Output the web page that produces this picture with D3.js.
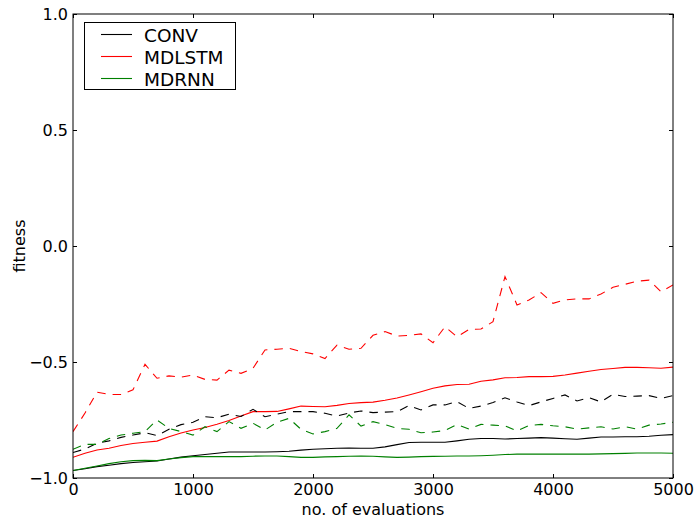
<!DOCTYPE html>
<html>
<head>
<meta charset="utf-8">
<script src="https://cdn.jsdelivr.net/npm/d3@7"></script>
<style>
  body { margin: 0; background: #fff; }
  text { font-family: "DejaVu Sans", sans-serif; }
</style>
</head>
<body>
<svg id="chart" width="697" height="522"></svg>
<script>
// evaluations sampled every 100 steps
var evals = d3.range(0, 5001, 100);

var convSolid = [-0.968,-0.960,-0.951,-0.945,-0.938,-0.933,-0.930,-0.927,-0.918,-0.910,-0.904,-0.899,-0.893,-0.888,-0.888,-0.888,-0.888,-0.887,-0.885,-0.880,-0.876,-0.874,-0.872,-0.871,-0.872,-0.872,-0.866,-0.856,-0.847,-0.846,-0.846,-0.846,-0.840,-0.833,-0.830,-0.830,-0.832,-0.830,-0.828,-0.826,-0.828,-0.831,-0.833,-0.828,-0.823,-0.823,-0.822,-0.822,-0.820,-0.816,-0.813];
var convDashed = [-0.890,-0.875,-0.850,-0.840,-0.825,-0.815,-0.805,-0.817,-0.790,-0.770,-0.760,-0.736,-0.740,-0.725,-0.735,-0.704,-0.736,-0.725,-0.714,-0.714,-0.714,-0.721,-0.733,-0.720,-0.711,-0.718,-0.716,-0.714,-0.688,-0.707,-0.685,-0.685,-0.671,-0.700,-0.690,-0.675,-0.654,-0.672,-0.688,-0.672,-0.657,-0.642,-0.668,-0.654,-0.672,-0.639,-0.649,-0.647,-0.645,-0.657,-0.645];
var lstmSolid = [-0.911,-0.893,-0.879,-0.872,-0.860,-0.851,-0.846,-0.841,-0.822,-0.806,-0.793,-0.782,-0.768,-0.752,-0.733,-0.714,-0.714,-0.713,-0.702,-0.690,-0.692,-0.693,-0.687,-0.679,-0.675,-0.673,-0.665,-0.655,-0.642,-0.628,-0.613,-0.603,-0.597,-0.596,-0.583,-0.577,-0.568,-0.567,-0.563,-0.563,-0.562,-0.556,-0.548,-0.540,-0.532,-0.528,-0.523,-0.523,-0.525,-0.527,-0.522];
var lstmDashed = [-0.800,-0.720,-0.630,-0.640,-0.640,-0.620,-0.510,-0.570,-0.560,-0.565,-0.556,-0.575,-0.578,-0.535,-0.549,-0.527,-0.448,-0.445,-0.441,-0.455,-0.465,-0.485,-0.427,-0.445,-0.441,-0.385,-0.369,-0.388,-0.385,-0.379,-0.417,-0.348,-0.391,-0.360,-0.358,-0.326,-0.132,-0.254,-0.233,-0.201,-0.247,-0.232,-0.228,-0.228,-0.207,-0.178,-0.165,-0.152,-0.147,-0.197,-0.168];
var rnnSolid = [-0.968,-0.958,-0.948,-0.938,-0.930,-0.925,-0.924,-0.925,-0.918,-0.912,-0.908,-0.908,-0.908,-0.908,-0.908,-0.906,-0.905,-0.905,-0.908,-0.911,-0.911,-0.909,-0.908,-0.906,-0.905,-0.906,-0.909,-0.911,-0.910,-0.908,-0.907,-0.906,-0.905,-0.905,-0.904,-0.902,-0.899,-0.897,-0.897,-0.897,-0.897,-0.897,-0.897,-0.897,-0.896,-0.895,-0.894,-0.892,-0.892,-0.892,-0.893];
var rnnDashed = [-0.876,-0.855,-0.855,-0.830,-0.815,-0.807,-0.800,-0.750,-0.786,-0.800,-0.815,-0.779,-0.800,-0.757,-0.786,-0.764,-0.793,-0.760,-0.743,-0.790,-0.810,-0.800,-0.786,-0.728,-0.776,-0.757,-0.770,-0.786,-0.790,-0.805,-0.802,-0.795,-0.769,-0.789,-0.769,-0.772,-0.775,-0.797,-0.774,-0.769,-0.775,-0.779,-0.789,-0.784,-0.779,-0.789,-0.779,-0.789,-0.772,-0.767,-0.760];

var legendNames = ["CONV", "MDLSTM", "MDRNN"];
var legendColors = ["#000000", "#ff0000", "#008000"];
var xTicks = [0, 1000, 2000, 3000, 4000, 5000];
var yTicks = [-1.0, -0.5, 0.0, 0.5, 1.0];

var svg = d3.select("#chart");
var pLeft = 73, pRight = 673, pTop = 14, pBottom = 478;

var x = d3.scaleLinear().domain([0, 5000]).range([pLeft, pRight]);
var y = d3.scaleLinear().domain([-1, 1]).range([pBottom, pTop]);

//series drawn in matplotlib order: solid then dashed per model
var series = [
  {vals: convSolid, color: legendColors[0], dash: null},
  {vals: lstmSolid, color: legendColors[1], dash: null},
  {vals: rnnSolid, color: legendColors[2], dash: null},
  {vals: convDashed, color: legendColors[0], dash: "8.5,7"},
  {vals: lstmDashed, color: legendColors[1], dash: "8.5,7"},
  {vals: rnnDashed, color: legendColors[2], dash: "8.5,7"}
];

var line = d3.line()
  .x(function(d, i){ return x(evals[i]); })
  .y(function(d){ return y(d); });

svg.append("defs").append("clipPath").attr("id", "clip")
  .append("rect").attr("x", pLeft).attr("y", pTop)
  .attr("width", pRight - pLeft).attr("height", pBottom - pTop);

var plot = svg.append("g").attr("clip-path", "url(#clip)");
series.forEach(function(s){
  plot.append("path")
    .attr("d", line(s.vals))
    .attr("fill", "none")
    .attr("stroke", s.color)
    .attr("stroke-width", 1.1)
    .attr("stroke-dasharray", s.dash);
});

// axes with inward ticks on all four sides
var fmtY = function(d){ return d3.format(".1f")(d).replace("-", "\u2212"); };
svg.append("g").attr("transform", "translate(0," + pBottom + ")")
  .call(d3.axisBottom(x).tickValues(xTicks).tickSize(-4).tickPadding(6).tickFormat(d3.format("d")));
svg.append("g").attr("transform", "translate(0," + pTop + ")")
  .call(d3.axisTop(x).tickValues(xTicks).tickSize(-4).tickFormat(""));
svg.append("g").attr("transform", "translate(" + pLeft + ",0)")
  .call(d3.axisLeft(y).tickValues(yTicks).tickSize(-4).tickPadding(5).tickFormat(fmtY));
svg.append("g").attr("transform", "translate(" + pRight + ",0)")
  .call(d3.axisRight(y).tickValues(yTicks).tickSize(-4).tickFormat(""));

svg.selectAll(".domain").remove();
svg.selectAll(".tick line").attr("stroke", "#000");
svg.selectAll(".tick text").attr("font-size", 16).attr("fill", "#000")
  .style("font-family", "DejaVu Sans");

svg.append("rect")
  .attr("x", pLeft).attr("y", pTop)
  .attr("width", pRight - pLeft).attr("height", pBottom - pTop)
  .attr("fill", "none").attr("stroke", "#000").attr("stroke-width", 1);

svg.append("text")
  .attr("x", (pLeft + pRight) / 2).attr("y", 515)
  .attr("text-anchor", "middle").attr("font-size", 16)
  .text("no. of evaluations");

svg.append("text")
  .attr("transform", "translate(25," + ((pTop + pBottom) / 2) + ") rotate(-90)")
  .attr("text-anchor", "middle").attr("font-size", 16)
  .text("fitness");

// legend
var legend = svg.append("g");
legend.append("rect")
  .attr("x", 84.5).attr("y", 22.5).attr("width", 151).attr("height", 67)
  .attr("fill", "#fff").attr("stroke", "#000");
legendNames.forEach(function(name, i){
  var ly = 34.5 + i * 22;
  legend.append("line")
    .attr("x1", 101).attr("x2", 132).attr("y1", ly).attr("y2", ly)
    .attr("stroke", legendColors[i]).attr("stroke-width", 1.1);
  legend.append("text")
    .attr("x", 144).attr("y", ly + 7)
    .attr("font-size", 18.5)
    .text(name);
});
</script>
</body>
</html>
